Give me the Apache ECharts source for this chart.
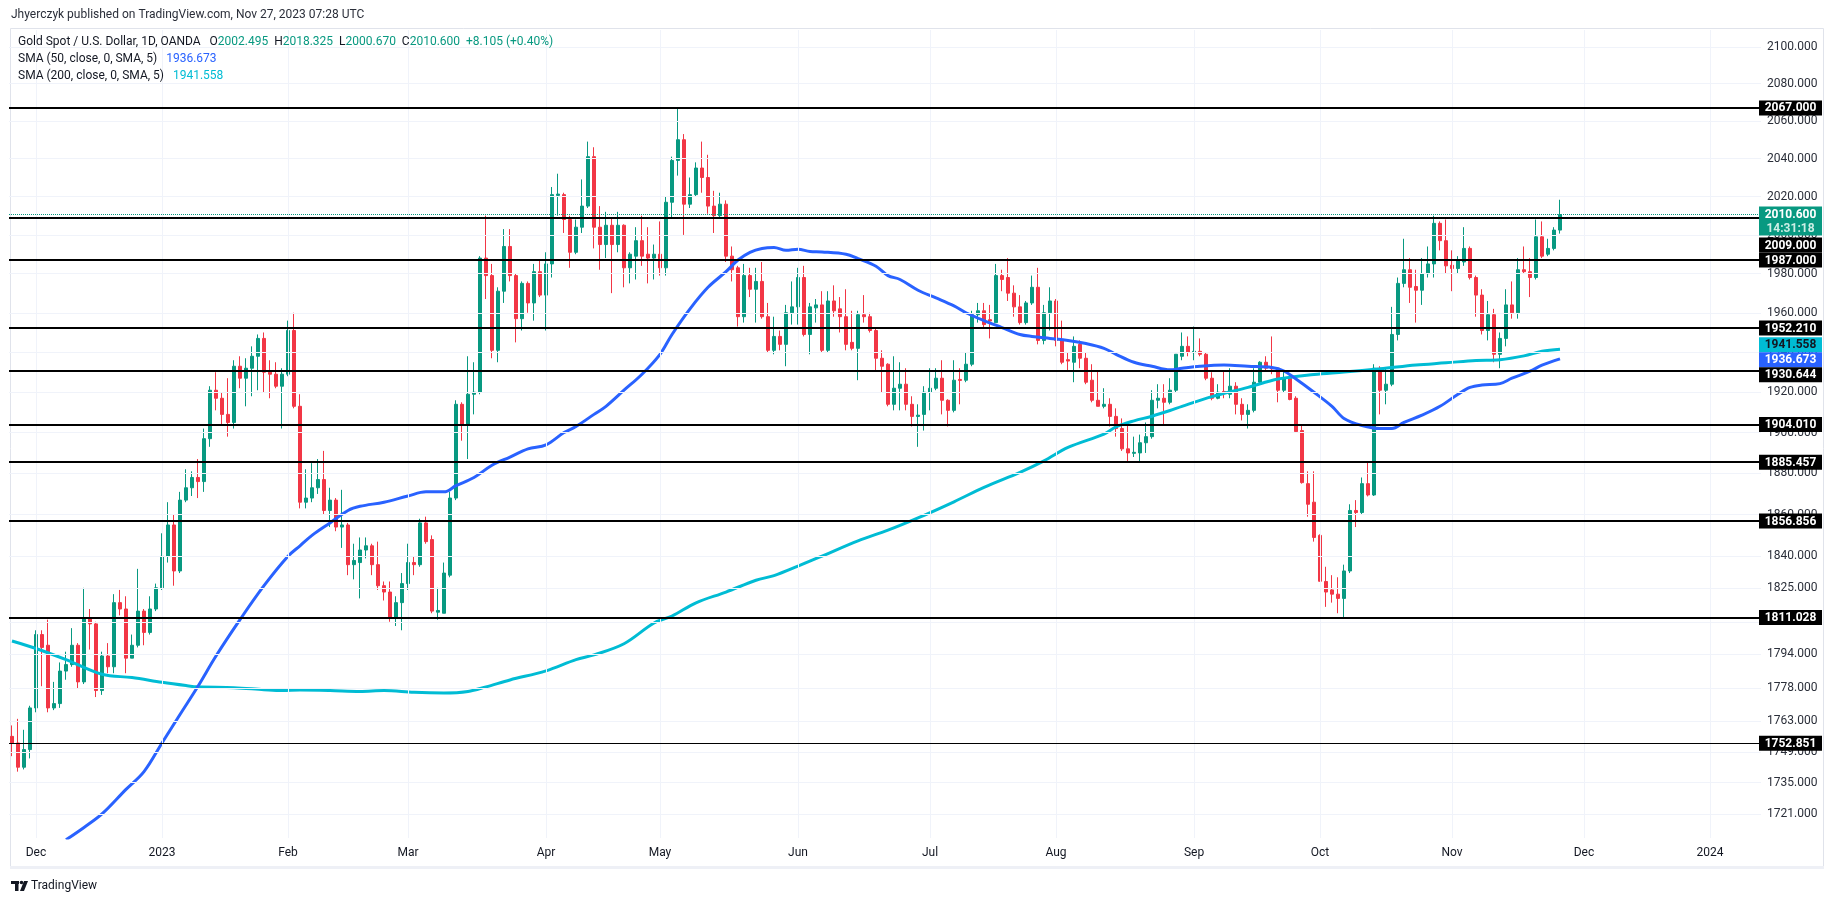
<!DOCTYPE html>
<html><head><meta charset="utf-8">
<script src="https://cdn.jsdelivr.net/npm/echarts@6/dist/echarts.min.js"></script>
<style>html,body{margin:0;padding:0;background:#fff;}#c{width:1835px;height:901px;}</style>
</head><body><div id="c"></div>
<script>
// ---------- DATA ----------
const startDate = '2022-11-25';
const holidays = ['2022-12-26','2023-01-02','2023-04-07'];
const totalBars = 292;
const monthNames = ['Jan','Feb','Mar','Apr','May','Jun','Jul','Aug','Sep','Oct','Nov','Dec'];

const open = [1756,1753,1742,1750,1769,1803,1798,1769,1771,1786,1789,1798,1781,1811,1808,1777,1793,1788,1818,1815,1792,1798,1814,1804,1815,1825,1840,1855,1833,1867,1873,1878,1876,1897,1921,1917,1909,1905,1933,1927,1932,1938,1947,1930,1929,1923,1929,1951,1913,1866,1868,1873,1877,1862,1867,1854,1855,1836,1837,1843,1845,1836,1826,1823,1811,1818,1827,1837,1836,1856,1848,1813.5,1813,1831,1868,1914,1904,1919,1920,1988,1979,1941,1971,1994,1979,1957,1975,1965,1981,1969,1985,2020.6,2021,2008,1991,2004,2015,2041,2004,1995,2005,1995,2005,1983,1989,1997,1990,1988,1990,1983,2017,2039,2050,2016,2021,2035,2030,2015,2010,2016,1989,1983,1958,1979,1972,1976,1958,1941,1948,1944,1960,1963,1978,1949,1962.5,1964,1941,1966,1962,1958,1945,1942,1959,1958,1951,1937,1934,1914,1922,1924,1914,1908,1909,1920,1922,1927,1916,1911,1926.4,1926,1934,1959,1961,1956.5,1955,1979,1978,1970,1963,1955,1965,1973,1946,1960,1966,1946,1936.3,1935,1944,1937,1926,1916,1913,1914,1908,1902,1892,1889.8,1890,1895,1898,1916,1917,1915,1921,1938,1943,1939.8,1940.5,1939,1927,1917,1920.4,1919,1923,1914,1909,1911,1925,1935,1932.2,1932,1921,1927,1917,1901,1875,1866,1850,1828,1824,1822,1820,1833,1862,1861,1875,1869.5,1932,1921,1924,1949,1975,1982,1973.4,1971.5,1980,1985,2006,1997,1984.3,1982.6,1986,1993,1978,1969,1951,1959,1939,1947,1964,1960,1982,1981,1978,1999,1990,1993,2002.495];
const high = [1761,1764,1759,1770,1805,1805,1810,1781,1790,1795,1806,1799,1825,1815,1809,1795,1799,1822,1824,1821,1803,1834,1815,1821,1827,1851,1866,1860,1871,1882,1881,1887,1902,1923,1930,1920,1927,1936,1938,1937,1943,1949,1950,1936,1935,1932,1956,1960,1919,1882,1885,1887,1891,1873,1868,1872,1856,1846,1849,1849,1846,1847,1828,1828,1821,1832,1846,1840,1858,1859,1850,1825,1837,1871,1916,1915,1938,1935,1989,2010,1985,1973,2003,2003,1980,1976,1976,1985,1987,1991,2025,2032,2022,2010,2008,2029,2049,2046,2015,2012,2009,2012,2005.5,1991,2004,2010,2004,1995,2007,2020,2041,2067,2053,2030,2038,2049,2042,2023,2022,2018,1994,1984,1985,1983,1983,1986,1965,1958,1951,1964,1976,1983,1984,1965,1967,1971,1971,1974,1968,1972,1961,1961,1969,1960,1952,1941,1934.5,1938,1935,1932,1918,1914,1923,1932,1932,1936,1916.5,1936,1932,1940,1961,1965,1965,1964,1985,1982,1988,1974,1969,1966,1979,1983,1964,1973,1967,1956,1940,1948,1946,1940,1934,1931,1922,1917,1912,1907,1904,1898,1899,1905,1921,1924,1924,1927,1939,1950,1948,1953,1947,1940,1930,1924,1931,1932,1925,1917,1914,1932,1935.5,1938,1948,1932.5,1931,1927.5,1918,1904,1881,1881,1850.5,1835,1831,1830,1836,1865,1867,1878,1886,1934,1933,1932,1963,1978,1998,1988,1982,1988,1994,2010,2007,2008,1992,1989,2004,1994,1979,1972,1966,1962,1950,1972,1976,1988,1994,1988,2008,2007,1998,2004,2018.325];
const low = [1747,1740,1741,1746,1767,1779,1767,1768,1769,1782,1788,1778,1780,1796,1774,1775,1785,1785,1812,1785,1792,1797,1798,1803,1814,1824,1837,1826,1832,1866,1869,1868,1871,1893,1911,1904,1898,1902,1922,1913,1918,1921,1920,1917,1922,1902,1928,1912,1863,1863,1866,1870,1860,1854,1852,1844,1831,1829,1820,1839,1831,1824,1819,1809,1807,1805,1824,1831,1835,1846,1813,1810,1813,1830,1867,1896,1887,1909,1919,1967,1937,1935,1965,1976,1945,1951,1960,1956,1968,1951,1978,2010,2001,1983,1990,2001,2014,1993,1982,1988,1970,1991,1973,1975,1977,1984,1975,1977,1979,1979,2009,2031,2000,2014,2020,2022,2011,2001,2009,1986,1976,1953,1955,1968,1955,1957,1940,1939,1941,1933,1954,1954,1948,1939,1955,1940,1940,1958,1950,1941,1941,1926,1955,1950,1931,1920,1913,1911,1911,1911,1903,1893,1901,1911,1921,1909,1903,1910,1914,1925,1933,1955,1952,1947,1955,1971,1966,1958,1954,1954,1964,1944,1944,1951,1943,1934,1931,1925,1932,1924,1915,1913,1912,1903,1898,1891,1886,1888,1886,1890,1897,1912,1904,1914,1920,1936,1938,1936,1938,1926,1916,1916.5,1917,1917,1909,1906,1902,1910,1924,1931,1929,1915,1920,1916,1900,1875,1859,1847,1828,1816,1818,1813,1811,1832,1854,1860,1868.8,1869,1909,1914,1923,1946,1973,1965,1955,1964,1978,1978,1992,1980,1971,1980,1984,1977,1958,1949,1946,1935,1932,1943,1957,1957,1980,1968,1977,1988,1989,1992,2000.67];
const close = [1753,1742,1750,1769,1803,1797,1769,1771,1786,1789,1798,1781,1811,1808,1777,1793,1788,1818,1815,1792,1798,1814,1804,1815,1825,1840,1855,1833,1867,1873,1878,1876,1897,1921,1917,1909,1905,1933,1927,1932,1938,1947,1930,1929,1923,1929,1951,1913,1866,1868,1873,1877,1862,1867,1854,1855,1836,1838,1843,1845,1836,1826,1823,1811,1818,1827,1837,1836,1856,1847,1814,1814.3,1832,1868,1914,1904,1919,1920,1988,1979,1941,1971,1994,1979,1957,1975,1965,1981,1969,1985,2021,2021.3,2008,1991,2004,2015,2041,2004,1995,2005,1995,2005,1983,1990,1997,1989,1988,1990,1983,2017,2039,2050,2016,2021,2035,2030,2015,2010,2016,1989,1982,1958,1979,1972,1976,1958,1941,1948,1944,1960,1963,1978,1949,1963,1964,1941,1966,1961,1958,1944,1942,1959,1958,1951,1937,1933,1914,1922,1924,1914,1908,1908.6,1920,1922,1927,1916,1911,1926,1925.9,1934,1959,1961,1954,1955.8,1979,1977,1970,1963,1955,1965,1973,1946,1960,1966,1946,1935,1935.6,1943,1937,1925,1916,1913,1914,1908,1902,1892,1890,1890.3,1895,1898,1916,1917,1915,1921,1939,1943,1940,1940.5,1939,1927,1917,1920,1919.4,1923,1914,1909,1911,1925,1935,1932,1931.7,1921,1927,1916.4,1900.5,1875.5,1865,1849,1828.1,1823,1822,1820,1833,1862,1861,1875,1869.5,1932,1921,1924,1949,1975,1982,1973,1971.5,1980,1985,2006,1997,1984,1982.6,1987,1993,1978,1969,1951,1959,1939,1947,1964,1960,1982,1981,1978,1999,1989,1993,2002.5,2010.6];

// SMA curves: bar index -> value
const sma50Bars = [9,12,15,19,22,25,28,31,34,38,42,46,48,50,53,56,58,62,66,69,72,74,77,80,83,86,89,92,94,97,99,102,105,108,110,113,116,119,121,123,125,127,129,131,133,135,139,141,144,146,148,151,154,157,159,162,165,168,170,173,176,179,182,184,187,190,193,195,198,202,206,210,212,214,217,220,222,225,228,230,232,235,238,241,243,245,248,250,253,255,258];
const sma50Vals = [1709.5,1715,1721,1732,1740,1753,1766,1779,1793,1810,1826,1840,1845,1850,1856,1862,1864,1866,1869,1871,1871,1874,1878,1884,1888,1892,1894,1900,1903,1909,1913,1921,1929,1939,1949,1962,1973,1981,1987,1991,1993,1993.5,1992,1992.6,1991.4,1991.2,1990,1987.7,1983.8,1979,1977,1971.5,1967.6,1963.5,1960,1956,1952.5,1949,1948,1947,1946,1944.4,1942,1939,1935,1933,1931.2,1932,1933,1933.6,1933,1932.4,1930.6,1926.6,1920,1913,1907,1903.5,1902,1902,1905,1908.6,1913,1919,1922.4,1923.6,1924.3,1927,1930.5,1933.5,1936.673];
const sma200Bars = [0,4,9,15,20,25,29,31,37,42,45,48,53,58,62,67,72,76,79,83,89,94,97,102,107,110,114,119,124,127,131,135,141,146,151,157,162,168,172,176,182,184,187,190,193,195,200,206,211,217,222,228,234,239,244,248,252,255,258];
const sma200Vals = [1800,1796.5,1791.3,1784.5,1783,1780.8,1779.3,1778.7,1778.3,1777.4,1777,1777.2,1777,1776.6,1777,1776.2,1775.9,1776.6,1778.7,1781.9,1786.1,1791.3,1793.5,1798.7,1808.4,1811.7,1817.9,1823,1828.6,1830.8,1835.3,1840.1,1847.4,1852.5,1858.4,1866.2,1873.2,1880.5,1886.1,1892.7,1899.3,1902.8,1905.8,1908.1,1910.9,1913,1917.8,1922.4,1926.6,1928.9,1930.1,1931.7,1933.6,1934.7,1935.9,1936.3,1938.2,1940.5,1941.558];

const levels = [2067.000,2009.000,1987.000,1952.210,1930.644,1904.010,1885.457,1856.856,1811.028,1752.851];
const yTicks = [2100,2080,2060,2040,2020,2000,1980,1960,1940,1920,1900,1880,1860,1840,1825,1809,1794,1778,1763,1749,1735,1721];
const lastPrice = 2010.600;
const sma50Last = 1936.673;
const sma200Last = 1941.558;
const ohlcLast = {o:'2002.495', h:'2018.325', l:'2000.670', c:'2010.600', chg:'+8.105 (+0.40%)'};
const countdown = '14:31:18';

// ---------- BUILD ----------
function buildDates(){
  const out=[]; const p=startDate.split('-');
  const d=new Date(Date.UTC(+p[0],+p[1]-1,+p[2]));
  while(out.length<totalBars){
    const w=d.getUTCDay(); const s=d.toISOString().slice(0,10);
    if(w!==0&&w!==6&&holidays.indexOf(s)<0) out.push(s);
    d.setUTCDate(d.getUTCDate()+1);
  }
  return out;
}
const dates = buildDates();
const isMonthStart = i => i>0 && dates[i].slice(0,7)!==dates[i-1].slice(0,7);
const monthStarts = dates.filter((d,i)=>isMonthStart(i));

const candleData = dates.map((d,i)=> i<open.length ? [open[i],close[i],low[i],high[i]] : '-');
const sma50Data = sma50Bars.map((b,k)=>[b,sma50Vals[k]]);
const sma200Data = sma200Bars.map((b,k)=>[b,sma200Vals[k]]);

const FONT = 'Roboto, "Liberation Sans", sans-serif';
const UP='#089981', DOWN='#F23645', BLUE='#2962FF', CYAN='#00BCD4', TXT='#131722';

const chart = echarts.init(document.getElementById('c'));
const option = {
  animation:false,
  backgroundColor:'#ffffff',
  grid:{left:9, right:74, top:30, bottom:63, containLabel:false},
  xAxis:{
    type:'category', data:dates, boundaryGap:true,
    axisLine:{show:false}, axisTick:{show:false}, splitLine:{show:false},
    axisLabel:{
      interval:(i)=>isMonthStart(i),
      formatter:(v)=>{const m=+v.slice(5,7); return m===1? v.slice(0,4) : monthNames[m-1];},
      color:TXT, fontSize:12, fontFamily:FONT, margin:9
    }
  },
  yAxis:{
    type:'log', logBase:10, min:1710.3, max:2109.2, position:'right',
    axisLine:{show:false}, axisTick:{show:false}, splitLine:{show:false},
    axisLabel:{customValues:yTicks, formatter:(v)=>Number(v).toFixed(3), color:'#2a2e39', fontSize:12, fontFamily:FONT, margin:6}
  },
  series:[
    { type:'line', name:'grid', data:[], z:1, silent:true,
      markLine:{silent:true, symbol:['none','none'], label:{show:false}, animation:false,
        lineStyle:{color:'#f0f3fa', width:1, type:'solid'},
        data: yTicks.map(v=>({yAxis:v})).concat(monthStarts.map(d=>({xAxis:d})))
      }
    },
    { type:'candlestick', name:'XAUUSD', data:candleData, z:2, barWidth:4,
      itemStyle:{color:UP, color0:DOWN, borderColor:UP, borderColor0:DOWN, borderWidth:1}
    },
    { type:'line', name:'SMA200', data:sma200Data, z:3, smooth:0.35, showSymbol:false, symbol:'none',
      lineStyle:{color:CYAN, width:3}
    },
    { type:'line', name:'SMA50', data:sma50Data, z:4, smooth:0.35, showSymbol:false, symbol:'none',
      lineStyle:{color:BLUE, width:3}
    },
    { type:'line', name:'levels', data:[], z:5, silent:true,
      markLine:{silent:true, symbol:['none','none'], label:{show:false}, animation:false,
        data: levels.map((v,i)=>({yAxis:v, lineStyle:{color:'#000000', width: i===levels.length-1?1:2, type:'solid'}}))
          .concat([{yAxis:lastPrice, lineStyle:{color:UP, width:1, type:'dotted'}}])
      }
    }
  ]
};
chart.setOption(option);

// ---------- price-scale labels placed via the axis scale ----------
const yPix = v => chart.convertToPixel({yAxisIndex:0}, v);
const BX = 1759, BW = 63, BH = 15;
const fixedTop = yPix(lastPrice) - 8, fixedH = 29;
let items = levels.map(v=>({v, bg:'#000000', fg:'#ffffff'}))
  .concat([{v:sma200Last, bg:CYAN, fg:TXT},{v:sma50Last, bg:BLUE, fg:'#ffffff'}]);
items.forEach(it=>it.c0=yPix(it.v));
items.sort((a,b)=>a.c0-b.c0);
let groups = items.map(it=>({items:[it]}));
function gPos(g){const c=g.items.reduce((s,it)=>s+it.c0,0)/g.items.length; const h=g.items.length*BH; g.top=c-h/2; g.h=h;}
let changed=true;
while(changed){
  changed=false; groups.forEach(gPos);
  for(let k=0;k<groups.length-1;k++){
    if(groups[k].top+groups[k].h>groups[k+1].top+0.5){
      groups[k].items=groups[k].items.concat(groups[k+1].items); groups.splice(k+1,1); changed=true; break;
    }
  }
}
groups.forEach(g=>{ gPos(g);
  if(g.top<fixedTop+fixedH && g.top+g.h>fixedTop){
    // labels for lower prices go below the last-price label, higher prices above it
    g.top = g.items[0].v <= lastPrice ? fixedTop+fixedH+2 : fixedTop-g.h-2;
  }
});
const graphics = [];
groups.forEach(g=>{
  g.items.forEach((it,k)=>{
    const top=g.top+k*BH;
    graphics.push({type:'rect', z:100, shape:{x:BX,y:top,width:BW,height:BH}, style:{fill:it.bg}});
    graphics.push({type:'text', z:101, x:BX+BW/2, y:top+BH/2+0.5, style:{text:it.v.toFixed(3), fill:it.fg, font:'bold 12px '+FONT, textAlign:'center', textVerticalAlign:'middle'}});
  });
});
graphics.push({type:'rect', z:100, shape:{x:BX,y:fixedTop,width:BW,height:fixedH}, style:{fill:UP}});
graphics.push({type:'text', z:101, x:BX+BW/2, y:fixedTop+8, style:{text:lastPrice.toFixed(3), fill:'#ffffff', font:'bold 12px '+FONT, textAlign:'center', textVerticalAlign:'middle'}});
graphics.push({type:'text', z:101, x:BX+BW/2, y:fixedTop+22, style:{text:countdown, fill:'#cdeee5', font:'bold 12px '+FONT, textAlign:'center', textVerticalAlign:'middle'}});

// frame, header, legend, logo
graphics.push({type:'rect', z:0, shape:{x:10.5,y:28.5,width:1813,height:840}, style:{fill:'none', stroke:'#e0e3eb', lineWidth:1}});
graphics.push({type:'rect', z:0, shape:{x:10,y:866,width:1814,height:3}, style:{fill:'#eef0f6'}});
graphics.push({type:'text', z:50, x:11, y:15, style:{text:'Jhyerczyk published on TradingView.com, Nov 27, 2023 07:28 UTC', fill:'#2a2e39', font:'12px '+FONT, textVerticalAlign:'middle'}});
graphics.push({type:'text', z:50, x:18, y:42, style:{
  text:'Gold Spot / U.S. Dollar, 1D, OANDA   O{v|'+ohlcLast.o+'}  H{v|'+ohlcLast.h+'}  L{v|'+ohlcLast.l+'}  C{v|'+ohlcLast.c+'}  {v|'+ohlcLast.chg+'}',
  fill:TXT, font:'12px '+FONT, textVerticalAlign:'middle',
  rich:{v:{fill:UP, font:'12px '+FONT}}
}});
graphics.push({type:'text', z:50, x:18, y:59, style:{
  text:'SMA (50, close, 0, SMA, 5)   {v|'+sma50Last.toFixed(3)+'}', fill:TXT, font:'12px '+FONT, textVerticalAlign:'middle',
  rich:{v:{fill:BLUE, font:'12px '+FONT}}
}});
graphics.push({type:'text', z:50, x:18, y:76, style:{
  text:'SMA (200, close, 0, SMA, 5)   {v|'+sma200Last.toFixed(3)+'}', fill:TXT, font:'12px '+FONT, textVerticalAlign:'middle',
  rich:{v:{fill:CYAN, font:'12px '+FONT}}
}});
// TradingView logo
graphics.push({type:'rect', z:50, shape:{x:11,y:881,width:8,height:3}, style:{fill:'#131722'}});
graphics.push({type:'rect', z:50, shape:{x:15,y:881,width:3.5,height:10}, style:{fill:'#131722'}});
graphics.push({type:'circle', z:50, shape:{cx:21.5,cy:882.5,r:1.8}, style:{fill:'#131722'}});
graphics.push({type:'polygon', z:50, shape:{points:[[24,881],[28,881],[24,891],[20,891]]}, style:{fill:'#131722'}});
graphics.push({type:'text', z:50, x:31, y:886, style:{text:'TradingView', fill:'#131722', font:'12px '+FONT, textVerticalAlign:'middle'}});

chart.setOption({graphic:graphics});
</script>
</body></html>
